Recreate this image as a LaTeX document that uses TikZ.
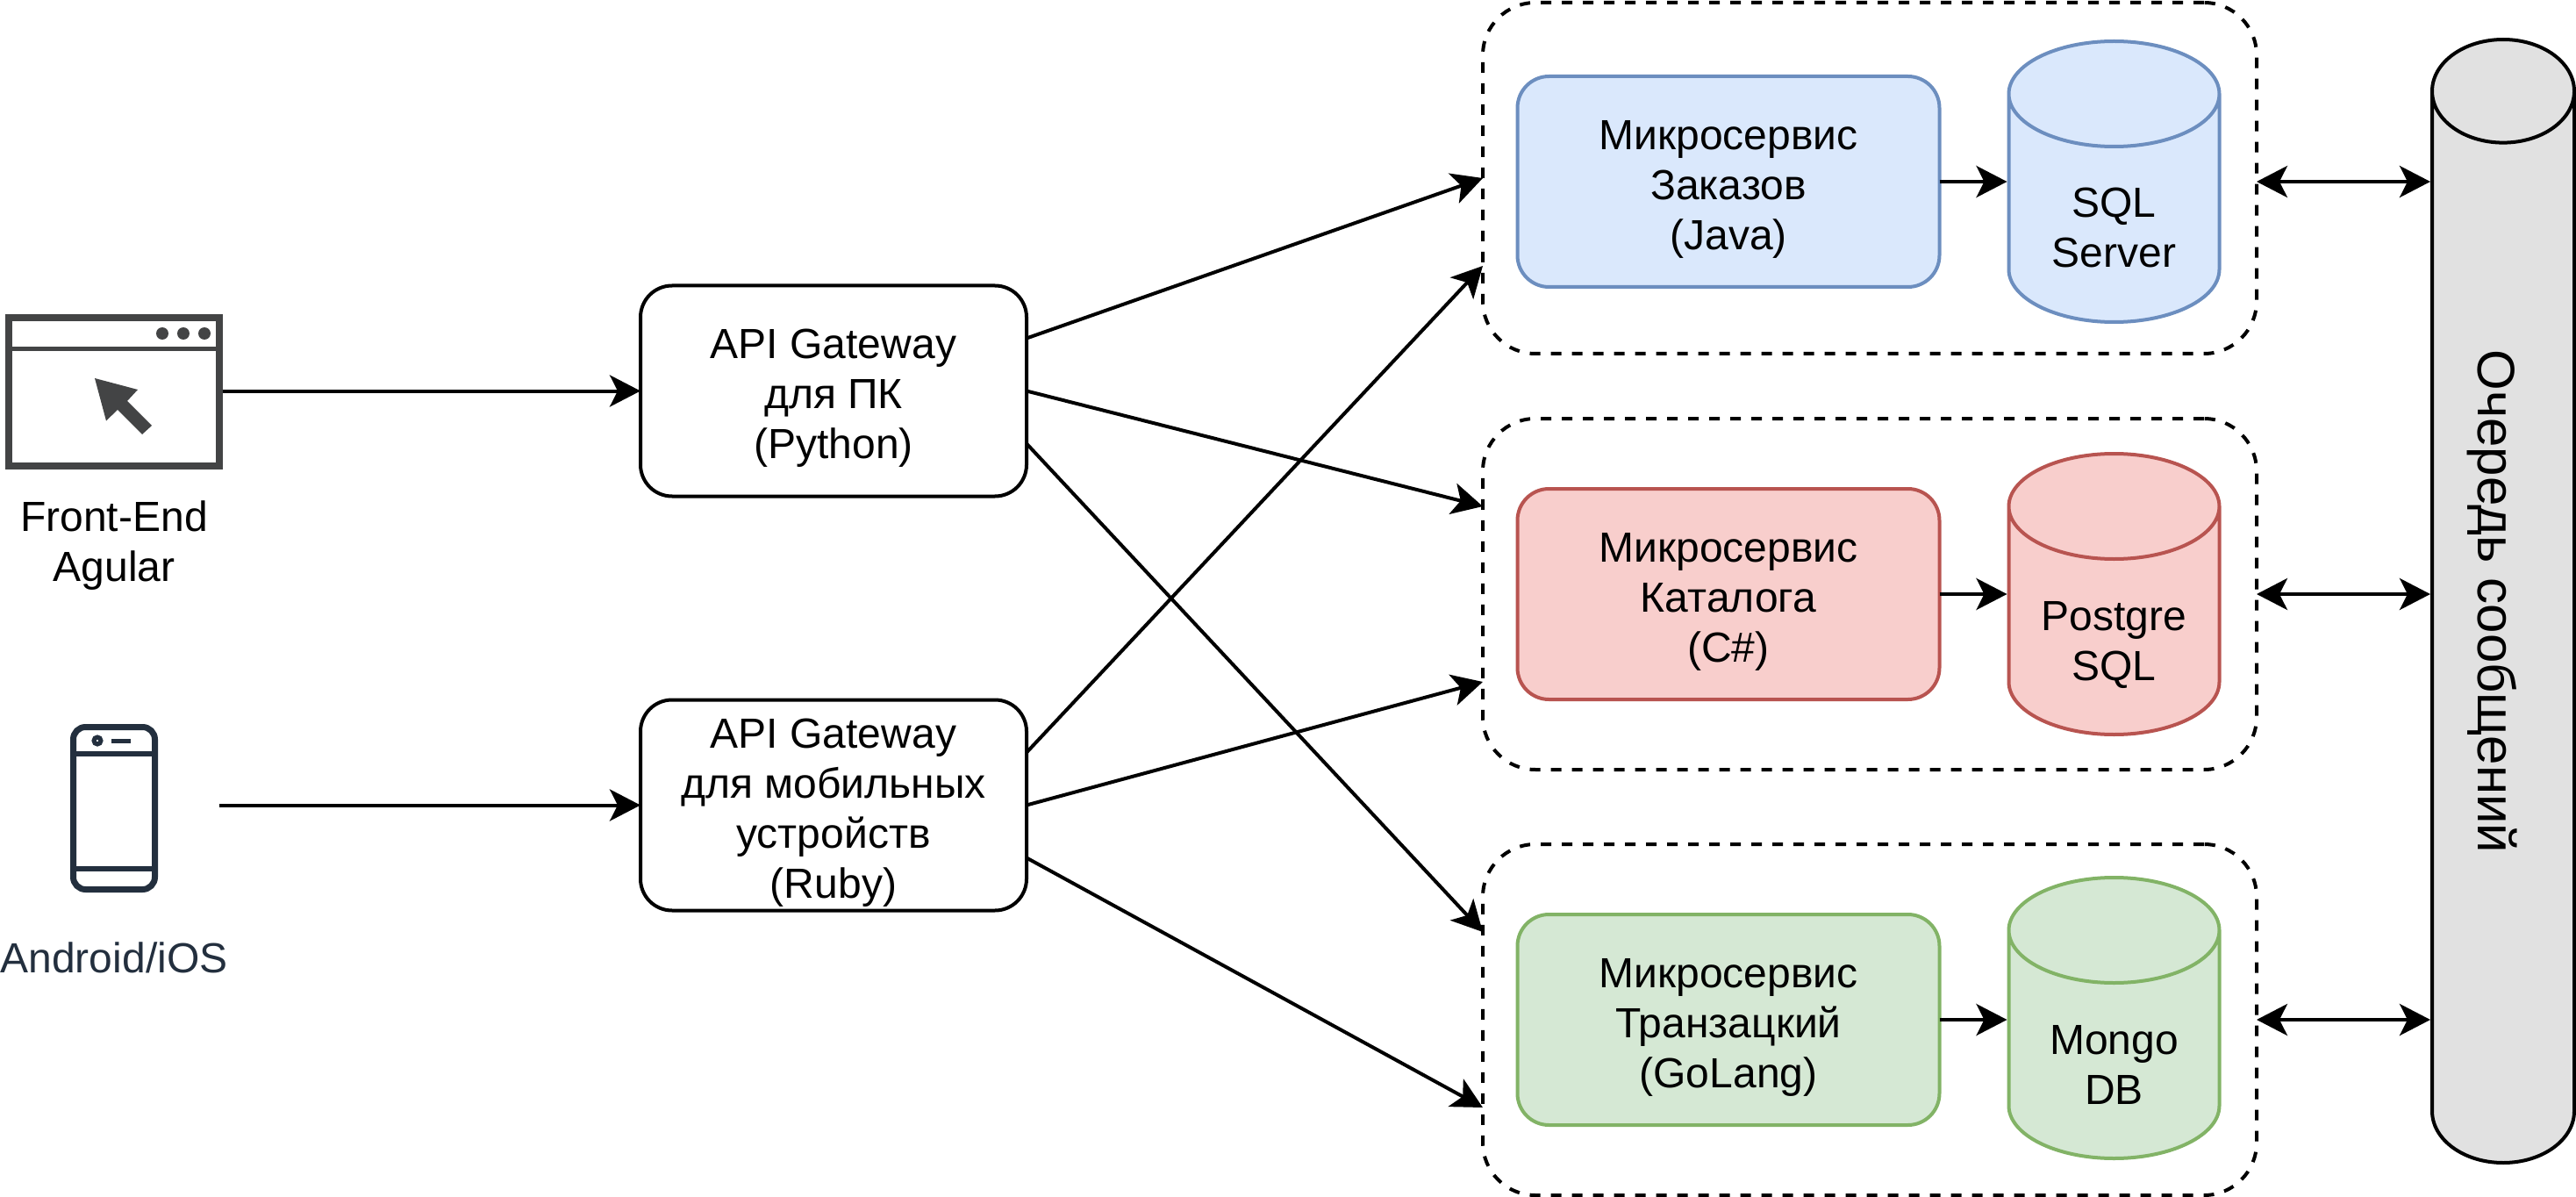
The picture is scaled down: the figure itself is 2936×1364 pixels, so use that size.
\documentclass[tikz,border=0pt]{standalone}
\usepackage{fontspec}
\setmainfont{Liberation Sans}
\usepackage{color}
\usetikzlibrary{arrows.meta}
\usetikzlibrary{calc}
\usetikzlibrary{shapes.geometric}
\definecolor{bluefill}{HTML}{DAE8FC}
\definecolor{blueline}{HTML}{6C8EBF}
\definecolor{redfill}{HTML}{F8CECC}
\definecolor{redline}{HTML}{B85450}
\definecolor{greenfill}{HTML}{D5E8D4}
\definecolor{greenline}{HTML}{82B366}
\definecolor{queuefill}{HTML}{E1E1E1}
\definecolor{iconwin}{HTML}{434445}
\definecolor{iconphone}{HTML}{232F3E}

\begin{document}
\begin{tikzpicture}[x=0.5pt,y=-0.5pt,
    font=\fontsize{24}{28.5}\selectfont,
    link/.style={line width=2pt,-{Stealth[length=17.5pt,width=18pt,inset=4.5pt]}},
    twolink/.style={line width=2pt,{Stealth[length=17.5pt,width=18pt,inset=4.5pt]}-{Stealth[length=17.5pt,width=18pt,inset=4.5pt]}},
    apibox/.style={draw,line width=2pt,rounded corners=18pt,minimum width=220pt,minimum height=120pt,inner sep=0pt,outer sep=0pt,align=center},
    groupbox/.style={draw,line width=2pt,rounded corners=30pt,dash pattern=on 6pt off 6pt,minimum width=441pt,minimum height=200pt,inner sep=0pt,outer sep=0pt},
    svcbox/.style={draw,line width=2pt,rounded corners=18pt,minimum width=240.5pt,minimum height=120pt,inner sep=0pt,outer sep=0pt,align=center},
    dbcyl/.style={draw,line width=2pt,cylinder,shape border rotate=90,aspect=1.5,minimum width=120pt,minimum height=160pt,inner sep=0pt,anchor=shape center},
    caption/.style={align=center,inner sep=0pt,anchor=base}]
  \newcommand{\boxtop}{\rule{0pt}{25pt}}
  \newcommand{\dbrule}{\phantom{\rule{40pt}{50pt}}}
  \useasboundingbox (0,0) rectangle (2936,1364);
  % browser icon
  \node (browser) [draw=iconwin,line width=4pt,minimum width=120pt,minimum height=84pt,inner sep=0pt] at (129.5,446.5) {};
  \draw [iconwin,line width=2.5pt] (browser.west |- 0,398) -- (browser.east |- 0,398);
  \fill [iconwin] (185,380) circle [radius=7];
  \fill [iconwin] (209,380) circle [radius=7];
  \fill [iconwin] (233,380) circle [radius=7];
  \fill [iconwin] (108,431) -- (157,444) -- (145,457) -- (173,485) -- (162,495) -- (134,467) -- (121,479.5) -- cycle;
  \node (browsertext) [caption] at (130,662) {Front-End\\Agular};
  % phone icon
  \node (phone) [draw=iconphone,line width=3.5pt,rounded corners=7pt,minimum width=46.5pt,minimum height=92.5pt,inner sep=0pt] at (130,921) {};
  \draw [iconphone,line width=3pt] (phone.west |- 0,859) -- (phone.east |- 0,859);
  \draw [iconphone,line width=3pt] (phone.west |- 0,990) -- (phone.east |- 0,990);
  \draw [iconphone,line width=2.5pt] (111,844) circle [radius=4];
  \draw [iconphone,line width=2.5pt] (127,844) -- (149,844);
  \node (phonetext) [caption,text=iconphone] at (130,1108) {Android/iOS};
  \coordinate (phoneout) at (250,917.5);
  % gateways
  \node (apipc) [apibox] at (950,445.5) {\boxtop API Gateway\\для ПК\\(Python)};
  \node (apimob) [apibox] at (950,917.5) {\boxtop API Gateway\\для мобильных\\устройств\\(Ruby)};
  % groups
  \node (grporder) [groupbox] at (2131,203) {};
  \node (grpcat) [groupbox] at (2131,677) {};
  \node (grptrans) [groupbox] at (2131,1162) {};
  % orders
  \node (svcorder) [svcbox,fill=bluefill,draw=blueline] at (1970,207) {\boxtop Микросервис\\Заказов\\(Java)};
  \node (dborder) [dbcyl,fill=bluefill,draw=blueline] at (2409.5,207) {\dbrule};
  \node (dbordertext) [caption] at (2409.5,305) {SQL\\Server};
  % catalog
  \node (svccat) [svcbox,fill=redfill,draw=redline] at (1970,677) {\boxtop Микросервис\\Каталога\\(C\#)};
  \node (dbcat) [dbcyl,fill=redfill,draw=redline] at (2409.5,677) {\dbrule};
  \node (dbcattext) [caption] at (2409.5,775) {Postgre\\SQL};
  % transactions
  \node (svctrans) [svcbox,fill=greenfill,draw=greenline] at (1970,1162) {\boxtop Микросервис\\Транзацкий\\(GoLang)};
  \node (dbtrans) [dbcyl,fill=greenfill,draw=greenline] at (2409.5,1160) {\dbrule};
  \node (dbtranstext) [caption] at (2409.5,1258) {Mongo\\DB};
  % queue
  \node (queue) [draw,line width=2pt,fill=queuefill,cylinder,rotate=-90,shape border rotate=180,aspect=2.1,minimum height=640pt,minimum width=81pt,inner sep=0pt,anchor=shape center,font=\fontsize{30}{36}\selectfont] at (2853,685) {\raisebox{-14.5pt}[14pt][14pt]{Очередь сообщений}\hspace*{30pt}};
  % inputs
  \draw [link] (browser.east |- apipc.west) -- (apipc.west);
  \draw [link] (phoneout) -- (apimob.west);
  % gateway to groups
  \draw [link] ($(apipc.north east)!0.25!(apipc.south east)$) -- (grporder.west);
  \draw [link] (apipc.east) -- ($(grpcat.north west)!0.25!(grpcat.south west)$);
  \draw [link] ($(apipc.north east)!0.75!(apipc.south east)$) -- ($(grptrans.north west)!0.25!(grptrans.south west)$);
  \draw [link] ($(apimob.north east)!0.25!(apimob.south east)$) -- ($(grporder.north west)!0.75!(grporder.south west)$);
  \draw [link] (apimob.east) -- ($(grpcat.north west)!0.75!(grpcat.south west)$);
  \draw [link] ($(apimob.north east)!0.75!(apimob.south east)$) -- ($(grptrans.north west)!0.75!(grptrans.south west)$);
  % service to db
  \draw [link] (svcorder.east) -- (dborder.west |- svcorder.east);
  \draw [link] (svccat.east) -- (dbcat.west |- svccat.east);
  \draw [link] (svctrans.east) -- (dbtrans.west |- svctrans.east);
  % groups to queue
  \draw [twolink] (grporder.east |- svcorder.east) -- (queue.south |- svcorder.east);
  \draw [twolink] (grpcat.east) -- (queue.south |- svccat.east);
  \draw [twolink] (grptrans.east) -- (queue.south |- svctrans.east);
\end{tikzpicture}
\end{document}
